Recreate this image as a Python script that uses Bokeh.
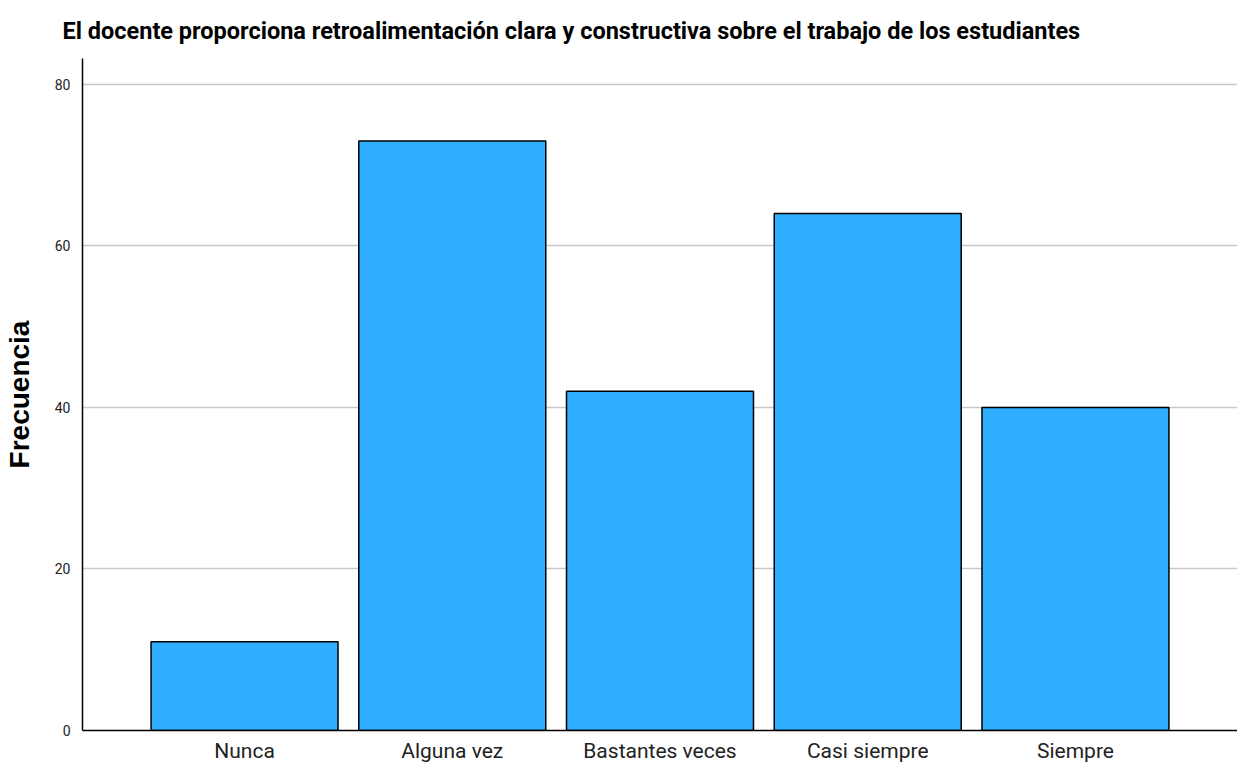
from bokeh.plotting import figure
from bokeh.models import FactorRange, Range1d, FixedTicker, Title
from bokeh.embed import file_html
from bokeh.resources import INLINE

categories = ["Nunca", "Alguna vez", "Bastantes veces", "Casi siempre", "Siempre"]
frecuencia = [11, 73, 42, 64, 40]
y_ticks = [0, 20, 40, 60, 80]
title_text = "El docente proporciona retroalimentación clara y constructiva sobre el trabajo de los estudiantes"

p = figure(
    width=1237, height=765,
    x_range=FactorRange(factors=categories, range_padding=0.28, range_padding_units="absolute"),
    y_range=Range1d(0, 83.2),
    output_backend="svg", toolbar_location=None,
    min_border_left=10, min_border_right=0, min_border_top=0, min_border_bottom=0,
)
p.title = None
t = Title(text=title_text, align="left", offset=-20,
          text_font="Roboto", text_font_size="23.5px", text_font_style="bold",
          text_color="#000000", standoff=28)
p.add_layout(t, "above")

p.vbar(x=categories, top=frecuencia, width=0.9, fill_color="#30AEFF",
       line_color="#000000", line_width=1.5)

p.outline_line_color = None
p.background_fill_color = "white"

p.xgrid.grid_line_color = None
p.ygrid.grid_line_color = "#c8c8c8"
p.ygrid.grid_line_width = 1.5
p.yaxis.ticker = FixedTicker(ticks=y_ticks)

for ax in (p.xaxis[0], p.yaxis[0]):
    ax.axis_line_color = "#000000"
    ax.axis_line_width = 1.5
    ax.major_tick_line_color = None
    ax.minor_tick_line_color = None
    ax.major_tick_out = 0
    ax.major_tick_in = 0
    ax.axis_label_standoff = 0

p.xaxis.major_label_text_font = "Roboto"
p.xaxis.major_label_text_font_size = "21px"
p.xaxis.major_label_text_color = "#222222"
p.xaxis.major_label_standoff = 8

p.yaxis.major_label_text_font = "Roboto"
p.yaxis.major_label_text_font_size = "14px"
p.yaxis.major_label_text_color = "#222222"
p.yaxis.major_label_standoff = 12
p.yaxis.axis_label = "Frecuencia"
p.yaxis.axis_label_text_font = "Liberation Sans"
p.yaxis.axis_label_text_font_style = "bold"
p.yaxis.axis_label_text_font_size = "28px"
p.yaxis.axis_label_text_color = "#000000"
p.yaxis.axis_label_standoff = 17

open("out.html", "w").write(file_html(p, INLINE))
